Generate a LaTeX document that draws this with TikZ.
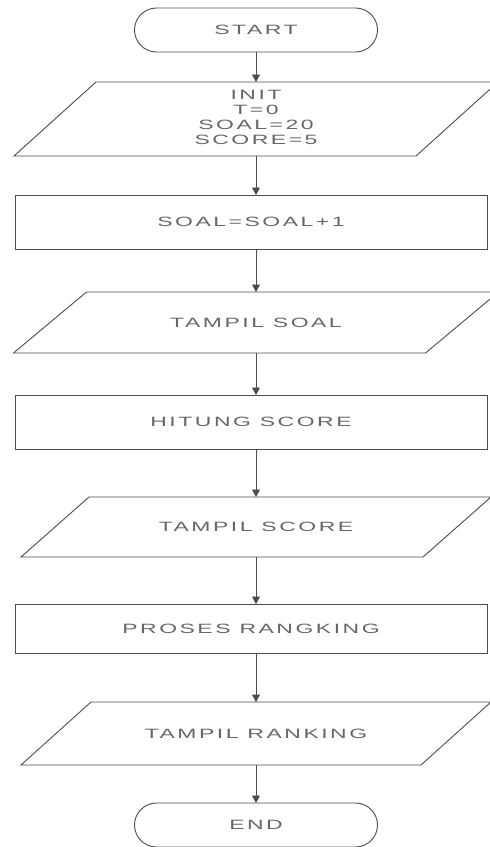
\documentclass[tikz,border=0pt]{standalone}
\usepackage{fontspec}
\usepackage{graphicx}
\usetikzlibrary{arrows.meta,calc}

\newfontfamily\flowfont[LetterSpace=11]{Liberation Sans}
% wide, letter-spaced capitals used for every label
\newcommand\widecaps[1]{\scalebox{1.7}[1]{#1}}

\tikzset{
  stroke/.style={draw=black!70, line width=0.9pt},
  txt/.style={text=black!60, font=\flowfont\fontsize{13.5}{15}\selectfont,
    inner sep=0pt, outer sep=0pt, align=center},
  terminal/.style={txt, stroke, rounded corners=22pt,
    minimum width=243pt, minimum height=44pt},
  process/.style={txt, stroke, minimum width=472pt, minimum height=#1},
  iobody/.style={txt, minimum width=#1},
  flow/.style={stroke, -{Triangle[length=7.5pt,width=8pt]}},
}

% input/output parallelogram around a body node: #1 node, #2 half of the slant
\newcommand\ioframe[2]{%
  \draw[stroke] ($(#1.north west)+(#2,0)$) -- ($(#1.north east)+(#2,0)$)
    -- ($(#1.south east)-(#2,0)$) -- ($(#1.south west)-(#2,0)$) -- cycle;}

\begin{document}
\begin{tikzpicture}[x=1pt, y=-1pt]
  \useasboundingbox (0,0) rectangle (490,847);
  \clip (0,0) rectangle (490,847);

  \node[terminal] (start) at (256,30) {\widecaps{START}};

  \node[iobody=402pt, minimum height=74pt] (init) at (256,119)
    {\widecaps{\begin{tabular}{@{}c@{}}INIT\\T=0\\SOAL=20\\SCORE=5\end{tabular}}};
  \ioframe{init}{41}

  \node[process=54pt] (next) at (251,222) {\widecaps{SOAL=SOAL+1}};

  \node[iobody=412pt, minimum height=61pt] (showq) at (256,322.5)
    {\widecaps{TAMPIL SOAL}};
  \ioframe{showq}{36.5}

  \node[process=54pt] (count) at (251,422) {\widecaps{HITUNG SCORE}};

  \node[iobody=402pt, minimum height=60pt] (shows) at (256,527)
    {\widecaps{TAMPIL SCORE}};
  \ioframe{shows}{34}

  \node[process=49pt] (rank) at (251,628.5) {\widecaps{PROSES RANGKING}};

  \node[iobody=400pt, minimum height=63pt] (showr) at (256,733.5)
    {\widecaps{TAMPIL RANKING}};
  \ioframe{showr}{35}

  \node[terminal] (stop) at (256,825) {\widecaps{END}};

  % connectors
  \draw[flow] (start.south) -- (start.south |- init.north);
  \draw[flow] (init.south) -- (init.south |- next.north);
  \draw[flow] (next.south -| showq.north) -- (showq.north);
  \draw[flow] (showq.south) -- (showq.south |- count.north);
  \draw[flow] (count.south -| shows.north) -- (shows.north);
  \draw[flow] (shows.south) -- (shows.south |- rank.north);
  \draw[flow] (rank.south -| showr.north) -- (showr.north);
  \draw[flow] (showr.south) -- (showr.south |- stop.north);
\end{tikzpicture}
\end{document}
